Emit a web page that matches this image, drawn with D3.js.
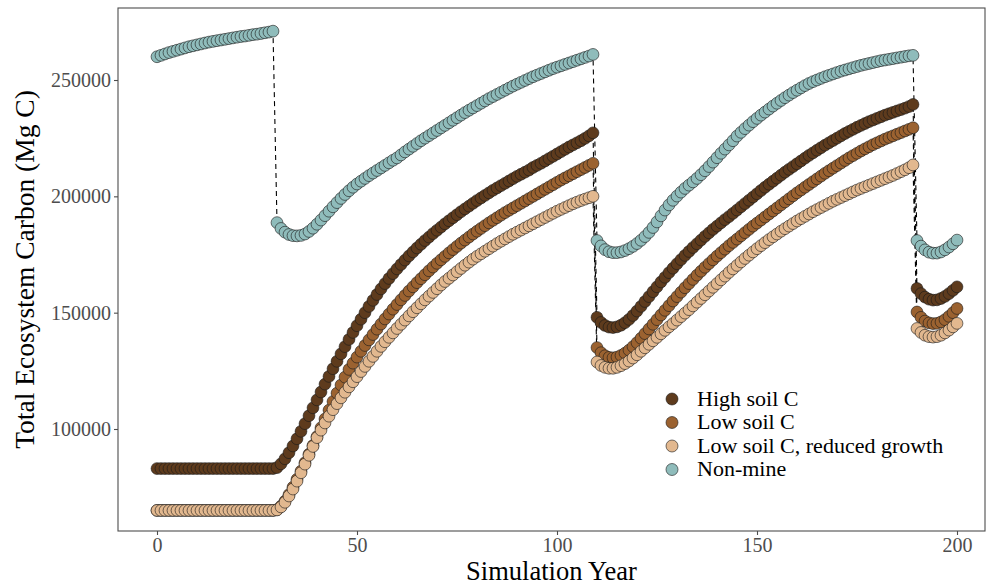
<!DOCTYPE html>
<html>
<head>
<meta charset="utf-8">
<script src="https://cdn.jsdelivr.net/npm/d3@7"></script>
<style>
html,body{margin:0;padding:0;background:#fff;}
svg{display:block;}
text{font-family:"Liberation Serif","DejaVu Serif",serif;}
</style>
</head>
<body>
<div id="chart"></div>
<script>
// ---------------- DATA ----------------
const years = d3.range(0, 201); // simulation years 0..200
const seriesNames = ["High soil C", "Low soil C", "Low soil C, reduced growth", "Non-mine"];
const seriesColors = ["#5e3b1d", "#9b6230", "#e2b88f", "#8fbcbb"];
const xTicks = [0, 50, 100, 150, 200];
const yTicks = [100000, 150000, 200000, 250000];

const highSoilC = [
83000,83000,83000,83000,83000,83000,83000,83000,83000,83000,
83000,83000,83000,83000,83000,83000,83000,83000,83000,83000,
83000,83000,83000,83000,83000,83000,83000,83000,83000,83000,
83400,85000,87200,89800,92700,95800,99000,102300,105700,109100,
112500,115900,119300,122600,125900,129100,132300,135400,138500,141500,
144400,147200,150000,152700,155300,157800,160200,162500,164700,166800,
168800,170700,172600,174400,176100,177800,179400,181000,182500,184000,
185400,186800,188200,189500,190800,192100,193400,194600,195800,197000,
198200,199300,200400,201500,202600,203600,204600,205600,206600,207600,
208600,209500,210400,211300,212400,213300,214200,215200,216200,217200,
218200,219200,220200,221200,222100,223000,223900,224900,226000,227300,
148000,145800,144500,143800,143600,143900,144600,145700,147100,148800,
150700,152700,154800,156900,159000,161100,163200,165200,167200,169100,
171000,172800,174600,176300,178000,179600,181200,182800,184300,185800,
187200,188600,190000,191300,192700,194100,195500,196900,198300,199700,
201100,202500,203900,205200,206500,207800,209100,210400,211600,212800,
214000,215200,216400,217600,218700,219800,220900,222000,223000,224000,
225000,226000,227000,227900,228800,229700,230500,231300,232100,232800,
233500,234200,234900,235500,236100,236700,237300,237900,238600,239500,
160400,158200,156700,155800,155400,155500,156100,157000,158200,159600,
161100];

const lowSoilC = [
65000,65000,65000,65000,65000,65000,65000,65000,65000,65000,
65000,65000,65000,65000,65000,65000,65000,65000,65000,65000,
65000,65000,65000,65000,65000,65000,65000,65000,65000,65000,
65300,66800,69000,71800,75000,78400,81900,85500,89200,92900,
96700,100500,104300,108100,111800,115400,118900,122300,125600,128300,
130900,133400,135900,138300,140600,142900,145100,147300,149400,151500,
153500,155500,157400,159300,161100,162900,164600,166300,168000,169600,
171200,172700,174200,175700,177100,178500,179900,181200,182500,183800,
185000,186200,187400,188600,189700,190800,191900,193000,194000,195000,
196000,197000,198000,199000,200000,201000,202000,203000,204000,205000,
206000,207000,207900,208800,209700,210600,211500,212400,213300,214200,
135000,132800,131500,130800,130600,130900,131600,132600,133900,135400,
137100,139000,141000,143000,145000,147000,149000,151000,153000,155000,
156900,158800,160700,162500,164300,166100,167800,169500,171100,172700,
174300,175800,177300,178800,180200,181600,183000,184400,185800,187200,
188500,189800,191100,192400,193700,195000,196300,197600,198900,200200,
201500,202700,203900,205100,206300,207500,208700,209900,211000,212100,
213200,214300,215400,216500,217500,218500,219500,220400,221300,222200,
223000,223800,224600,225300,226000,226700,227400,228100,228800,229500,
150300,148000,146400,145600,145300,145400,146000,147000,148400,150000,
151800];

const lowSoilCReduced = [
65000,65000,65000,65000,65000,65000,65000,65000,65000,65000,
65000,65000,65000,65000,65000,65000,65000,65000,65000,65000,
65000,65000,65000,65000,65000,65000,65000,65000,65000,65000,
65200,66500,68500,71200,74200,77600,81200,84900,88700,92500,
96300,99500,102600,105500,108300,110900,113400,115800,118100,120300,
122500,124700,126900,129100,131200,133400,135500,137500,139400,141300,
143200,145000,146800,148600,150400,152100,153800,155500,157100,158700,
160300,161900,163400,164800,166200,167600,169000,170400,171700,173000,
174200,175300,176400,177500,178600,179700,180700,181700,182700,183700,
184600,185500,186400,187300,188200,189100,190000,190900,191800,192700,
193600,194400,195200,196000,196800,197500,198200,198800,199400,200000,
128800,127300,126500,126100,126100,126500,127200,128100,129200,130500,
131900,133400,134900,136400,137900,139400,140900,142400,143900,145300,
146800,148300,149800,151300,152900,154500,156100,157700,159300,160900,
162500,164100,165700,167300,168800,170300,171800,173300,174700,176100,
177500,178800,180100,181400,182600,183800,185000,186100,187200,188300,
189400,190400,191400,192400,193400,194300,195200,196100,197000,197900,
198700,199500,200300,201100,201900,202700,203400,204100,204800,205500,
206200,206900,207600,208300,209000,209800,210600,211400,212300,213500,
143200,141500,140300,139700,139500,139700,140300,141300,142500,143900,
145400];

const nonMine = [
260000,260600,261200,261800,262300,262800,263300,263800,264300,264700,
265100,265500,265900,266300,266600,266900,267200,267500,267800,268100,
268400,268700,268900,269200,269500,269700,270000,270300,270600,271000,
188700,186200,184600,183600,183100,183000,183200,183800,184900,186300,
188000,189800,191700,193600,195500,197300,199100,200800,202400,203900,
205300,206500,207700,208900,210000,211100,212200,213300,214400,215500,
216500,217800,219100,220300,221500,222700,223900,225000,226100,227200,
228300,229400,230500,231600,232700,233800,234900,236000,237000,238000,
239000,240000,241000,242000,242900,243800,244700,245600,246500,247400,
248200,249000,249800,250600,251400,252100,252800,253500,254200,254900,
255500,256100,256700,257300,257900,258500,259100,259700,260300,261000,
181000,178700,177100,176200,175800,175800,176100,176700,177500,178500,
179700,181100,182700,184500,186600,189000,191600,194100,196300,198300,
200100,201800,203400,204800,206200,207700,209300,211000,212800,214700,
216600,218500,220300,222100,223900,225900,227500,229100,230600,232100,
233500,234900,236200,237500,238800,240000,241200,242400,243500,244600,
245600,246600,247600,248500,249300,250000,250700,251400,252000,252600,
253200,253800,254300,254800,255300,255800,256300,256700,257100,257500,
257900,258300,258600,258900,259200,259500,259800,260100,260400,260600,
181000,178600,177000,176000,175600,175600,176100,177000,178200,179600,
181200];

const seriesValues = [highSoilC, lowSoilC, lowSoilCReduced, nonMine];

// ---------------- LAYOUT ----------------
const W = 986, H = 588;
const panel = {left: 118, right: 985, top: 8, bottom: 531};

const svg = d3.select("#chart").append("svg").attr("width", W).attr("height", H);

const x = d3.scaleLinear().domain([-9.75, 207]).range([panel.left, panel.right]);
const y = d3.scaleLinear().domain([56160, 280950]).range([panel.bottom, panel.top]);

const series = seriesNames.map((name, i) => ({
  name, color: seriesColors[i],
  points: years.map((yr, j) => ({year: yr, value: seriesValues[i][j]}))
}));

const plot = svg.append("g");

// dashed connecting lines (mostly hidden under points)
const line = d3.line().x(d => x(d.year)).y(d => y(d.value));
plot.selectAll("path.series-line").data(series).enter().append("path")
  .attr("class", "series-line")
  .attr("d", d => line(d.points))
  .attr("fill", "none")
  .attr("stroke", "#000")
  .attr("stroke-width", 1.1)
  .attr("stroke-dasharray", "5,4");

// points
series.forEach(s => {
  plot.append("g").selectAll("circle").data(s.points).enter().append("circle")
    .attr("cx", d => x(d.year))
    .attr("cy", d => y(d.value))
    .attr("r", 5.9)
    .attr("fill", s.color)
    .attr("stroke", "#1a1a1a")
    .attr("stroke-width", 0.6);
});

// panel border
svg.append("rect")
  .attr("x", panel.left).attr("y", panel.top)
  .attr("width", panel.right - panel.left).attr("height", panel.bottom - panel.top)
  .attr("fill", "none").attr("stroke", "#4d4d4d").attr("stroke-width", 1.1);

// axes
const xAxis = d3.axisBottom(x).tickValues(xTicks).tickSize(4).tickPadding(3).tickFormat(d3.format("d"));
const yAxis = d3.axisLeft(y).tickValues(yTicks).tickSize(4).tickPadding(3).tickFormat(d3.format("d"));

const gx = svg.append("g").attr("transform", `translate(0,${panel.bottom})`).call(xAxis);
const gy = svg.append("g").attr("transform", `translate(${panel.left},0)`).call(yAxis);
[gx, gy].forEach(g => {
  g.select(".domain").remove();
  g.selectAll(".tick line").attr("stroke", "#4d4d4d").attr("stroke-width", 1.1);
  g.selectAll(".tick text").attr("fill", "#4d4d4d").style("font-size", "20px")
    .style("font-family", '"Liberation Serif", serif');
});

// axis titles
svg.append("text")
  .attr("x", (panel.left + panel.right) / 2).attr("y", 580)
  .attr("text-anchor", "middle").style("font-size", "26.5px").attr("fill", "#000")
  .text("Simulation Year");

svg.append("text")
  .attr("transform", `translate(34,${(panel.top + panel.bottom) / 2}) rotate(-90)`)
  .attr("text-anchor", "middle").style("font-size", "27.5px").attr("fill", "#000")
  .text("Total Ecosystem Carbon (Mg C)");

// legend
const legend = svg.append("g").attr("transform", "translate(672,399)");
const li = legend.selectAll("g").data(series).enter().append("g")
  .attr("transform", (d, i) => `translate(0,${i * 23.5})`);
li.append("circle").attr("r", 6).attr("fill", d => d.color)
  .attr("stroke", "#1a1a1a").attr("stroke-width", 0.6);
li.append("text").attr("x", 25).attr("y", 6.5).style("font-size", "22px")
  .attr("fill", "#000").text(d => d.name);
</script>
</body>
</html>
